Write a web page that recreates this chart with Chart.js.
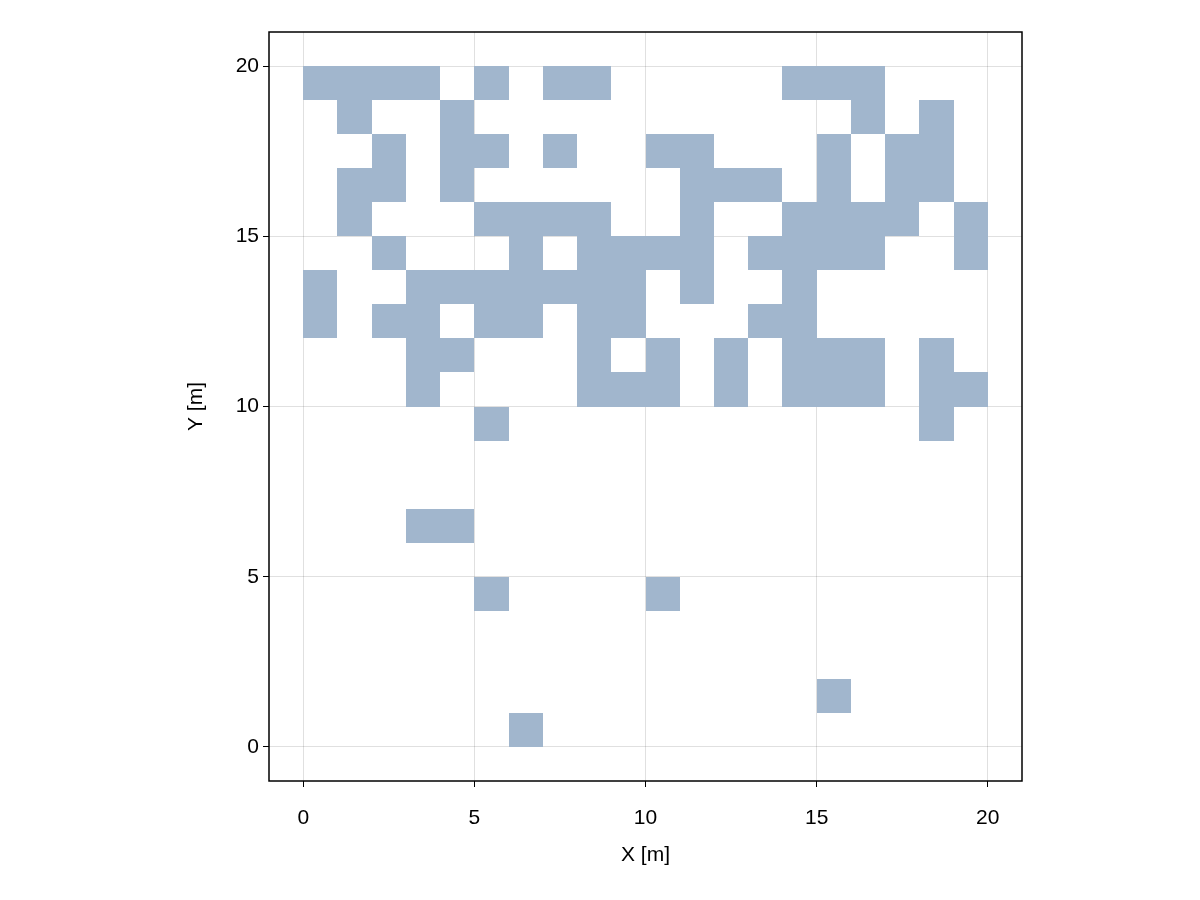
<!DOCTYPE html>
<html>
<head>
<meta charset="utf-8">
<script src="https://cdn.jsdelivr.net/npm/chart.js@4/dist/chart.umd.min.js"></script>
<style>
  html, body { margin: 0; padding: 0; background: #fff; }
  #wrap { width: 1200px; height: 900px; }
</style>
</head>
<body>
<div id="wrap"><canvas id="c" width="1200" height="900"></canvas></div>
<script>
// occupied cells: each row y holds the lower-left x of its 1x1 cells
const rowY = [19, 18, 17, 16, 15, 14, 13, 12, 11, 10, 9, 6, 4, 1, 0];
const rowCells = [
  [0, 1, 2, 3, 5, 7, 8, 14, 15, 16],
  [1, 4, 16, 18],
  [2, 4, 5, 7, 10, 11, 15, 17, 18],
  [1, 2, 4, 11, 12, 13, 15, 17, 18],
  [1, 5, 6, 7, 8, 11, 14, 15, 16, 17, 19],
  [2, 6, 8, 9, 10, 11, 13, 14, 15, 16, 19],
  [0, 3, 4, 5, 6, 7, 8, 9, 11, 14],
  [0, 2, 3, 5, 6, 8, 9, 13, 14],
  [3, 4, 8, 10, 12, 14, 15, 16, 18],
  [3, 8, 9, 10, 12, 14, 15, 16, 18, 19],
  [5, 18],
  [3, 4],
  [5, 10],
  [15],
  [6]
];
const tickValues = [0, 5, 10, 15, 20];
const xTitle = 'X [m]';
const yTitle = 'Y [m]';

const cellPoints = [];
rowY.forEach((y, i) => rowCells[i].forEach(x => cellPoints.push({ x: x, y: y })));

const FONT = 'Liberation Sans, Arial, sans-serif';

// fill each cell as a rectangle through the chart scales
const cellPlugin = {
  id: 'cells',
  beforeDatasetsDraw(chart) {
    const { ctx, scales: { x, y } } = chart;
    ctx.save();
    ctx.fillStyle = '#a1b6cd';
    cellPoints.forEach(p => {
      const x0 = Math.round(x.getPixelForValue(p.x)), x1 = Math.round(x.getPixelForValue(p.x + 1));
      const y0 = Math.round(y.getPixelForValue(p.y + 1)), y1 = Math.round(y.getPixelForValue(p.y));
      ctx.fillRect(x0, y0, x1 - x0, y1 - y0);
    });
    ctx.restore();
  },
  afterDraw(chart) {
    const { ctx, chartArea: a } = chart;
    ctx.save();
    ctx.strokeStyle = '#000';
    ctx.lineWidth = 1.5;
    ctx.strokeRect(a.left, a.top, a.right - a.left, a.bottom - a.top);
    ctx.fillStyle = '#000';
    ctx.font = '21px ' + FONT;
    ctx.textAlign = 'center';
    ctx.textBaseline = 'middle';
    ctx.fillText(xTitle, (a.left + a.right) / 2, 855);
    ctx.translate(196, (a.top + a.bottom) / 2);
    ctx.rotate(-Math.PI / 2);
    ctx.fillText(yTitle, 0, 0);
    ctx.restore();
  }
};

const axisStyle = () => ({
  type: 'linear',
  min: -1,
  max: 21,
  afterBuildTicks: s => { s.ticks = tickValues.map(v => ({ value: v })); },
  grid: { color: 'rgba(0,0,0,0.12)', lineWidth: 1, tickColor: '#000', tickLength: 6 },
  border: { display: false },
  ticks: { color: '#000', font: { family: FONT, size: 21 }, padding: 4 }
});

const xAxis = axisStyle();
xAxis.ticks.padding = 19;
xAxis.afterFit = s => { s.height = 119; };
const yAxis = axisStyle();
yAxis.afterFit = s => { s.width = 269; };

new Chart(document.getElementById('c'), {
  type: 'scatter',
  data: { datasets: [{ data: cellPoints.map(p => ({ x: p.x + 0.5, y: p.y + 0.5 })), pointRadius: 0 }] },
  options: {
    responsive: false,
    animation: false,
    layout: { padding: { top: 32, right: 178, bottom: 0, left: 0 } },
    plugins: { legend: { display: false }, tooltip: { enabled: false } },
    scales: { x: xAxis, y: yAxis }
  },
  plugins: [cellPlugin]
});
</script>
</body>
</html>
